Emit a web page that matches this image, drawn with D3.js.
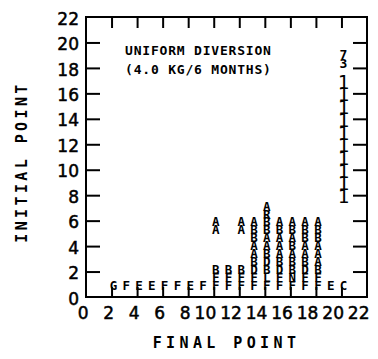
<!DOCTYPE html>
<html><head><meta charset="utf-8">
<script src="https://cdn.jsdelivr.net/npm/d3@7"></script>
<style>
html,body{margin:0;padding:0;background:#fff;}
svg{display:block;}
</style></head>
<body>
<svg id="chart" width="378" height="359"></svg>
<script>
// ---- data ----
const xTicks = [0,2,4,6,8,10,12,14,16,18,20,22];
const yTicks = [0,2,4,6,8,10,12,14,16,18,20,22];
const xTitle = "FINAL POINT";
const yTitle = "INITIAL POINT";
const noteLines = ["UNIFORM DIVERSION", "(4.0 KG/6 MONTHS)"];

// letter marks: final point (x), initial point (y), symbol
const markX = [
  2,3,4,5,6,7,8,9,
  10,10,10,10,10,
  11,11,11,
  12,12,12,12,12,
  13,13,13,13,13,13,13,13,13,
  14,14,14,14,14,14,14,14,14,14,14,
  15,15,15,15,15,15,15,15,15,
  16,16,16,16,16,16,16,16,16,
  17,17,17,17,17,17,17,17,17,
  18,18,18,18,18,18,18,18,18,
  19,20,
  20,20,20,20,20,20,20,20,20,20,20,20
];
const markY = [
  1,1,1,1,1,1,1,1,
  1,1.6,2.25,5.35,6.0,
  1,1.6,2.25,
  1,1.6,2.25,5.35,6.0,
  1,1.6,2.25,2.85,3.5,4.1,4.75,5.35,6.0,
  1,1.6,2.25,2.85,3.5,4.1,4.75,5.35,6.0,6.6,7.2,
  1,1.6,2.25,2.85,3.5,4.1,4.75,5.35,6.0,
  1,1.6,2.25,2.85,3.5,4.1,4.75,5.35,6.0,
  1,1.6,2.25,2.85,3.5,4.1,4.75,5.35,6.0,
  1,1.6,2.25,2.85,3.5,4.1,4.75,5.35,6.0,
  1,1,
  8,9,10,11,12,13,14,15,16,17,18.4,19.1
];
const markLabel = [
  "G","F","E","E","F","F","E","F",
  "F","F","B","A","A",
  "F","F","B",
  "F","F","B","A","A",
  "F","F","D","B","A","A","B","B","A",
  "F","L","B","D","B","A","A","B","B","R","A",
  "F","F","D","B","A","A","A","B","A",
  "F","N","B","B","A","B","A","B","A",
  "F","F","D","B","A","A","B","B","A",
  "F","F","B","A","A","A","B","B","A",
  "E","C",
  "1","1","1","1","1","1","1","1","1","1","3","7"
];

// ---- drawing ----
const svg = d3.select("#chart");
const L = 86, R = 367, T = 17, B = 297;
const x = d3.scaleLinear().domain([0,22]).range([L,R]);
const y = d3.scaleLinear().domain([0,22]).range([B,T]);

const inner = v => v !== 0 && v !== 22;

const gl = svg.append("g").attr("transform",`translate(${L},0)`)
  .call(d3.axisLeft(y).tickValues(yTicks).tickSize(-14).tickPadding(7).tickFormat(d3.format("d")));
const gb = svg.append("g").attr("transform",`translate(0,${B})`)
  .call(d3.axisBottom(x).tickValues(xTicks).tickSize(-10).tickPadding(6).tickFormat(d3.format("d")));
const gt = svg.append("g").attr("transform",`translate(0,${T})`)
  .call(d3.axisTop(x).tickValues(xTicks).tickSize(-11).tickFormat(""));
const gr = svg.append("g").attr("transform",`translate(${R},0)`)
  .call(d3.axisRight(y).tickValues(yTicks).tickSize(-14).tickFormat(""));

[gl,gb,gt,gr].forEach(g=>{
  g.select(".domain").remove();
  g.selectAll(".tick line").attr("stroke","#000").attr("stroke-width",2)
    .attr("display", d => inner(d) ? null : "none");
  g.selectAll(".tick text").attr("fill","#000")
    .style("font-family","'DejaVu Sans', sans-serif").style("font-size","17px")
    .attr("stroke","#000").attr("stroke-width",0.5);
});
gl.selectAll(".tick text").attr("dy","0.42em");
gb.selectAll(".tick text").attr("text-anchor","end").attr("dx",2).attr("dy","0.92em");

// frame
svg.append("rect").attr("x",L).attr("y",T).attr("width",R-L).attr("height",B-T)
  .attr("fill","none").attr("stroke","#000").attr("stroke-width",2);

// marks
const idx = d3.range(markX.length);
svg.append("g").selectAll("text").data(idx).join("text")
  .attr("x", i => x(markX[i]) + 2)
  .attr("y", i => y(markY[i]) + 1)
  .attr("text-anchor","middle")
  .attr("dominant-baseline","central")
  .style("font-family","'DejaVu Sans Mono', monospace")
  .style("font-weight", i => markLabel[i]==="1" ? "normal" : "bold")
  .style("font-size", i => markLabel[i]==="1" ? "19px" : (markLabel[i]==="3"||markLabel[i]==="7" ? "13px" : "12.5px"))
  .attr("fill","#000")
  .text(i => markLabel[i]);

// annotation
svg.append("g").selectAll("text").data(noteLines).join("text")
  .attr("x",125).attr("y",(d,i)=>55+i*19)
  .style("font-family","'DejaVu Sans Mono', monospace")
  .style("font-weight","bold").style("font-size","13px")
  .style("letter-spacing","0.8px")
  .attr("fill","#000")
  .text(d=>d);

// axis titles
svg.append("text").attr("x",(L+R)/2).attr("y",348)
  .attr("text-anchor","middle")
  .style("font-family","'DejaVu Sans Mono', monospace")
  .style("font-weight","bold").style("font-size","15px")
  .style("letter-spacing","4.4px")
  .attr("fill","#000").text(xTitle);

svg.append("text").attr("transform","translate(27,162) rotate(-90)")
  .attr("text-anchor","middle")
  .style("font-family","'DejaVu Sans Mono', monospace")
  .style("font-weight","bold").style("font-size","15px")
  .style("letter-spacing","3.4px")
  .attr("fill","#000").text(yTitle);
</script>
</body></html>
